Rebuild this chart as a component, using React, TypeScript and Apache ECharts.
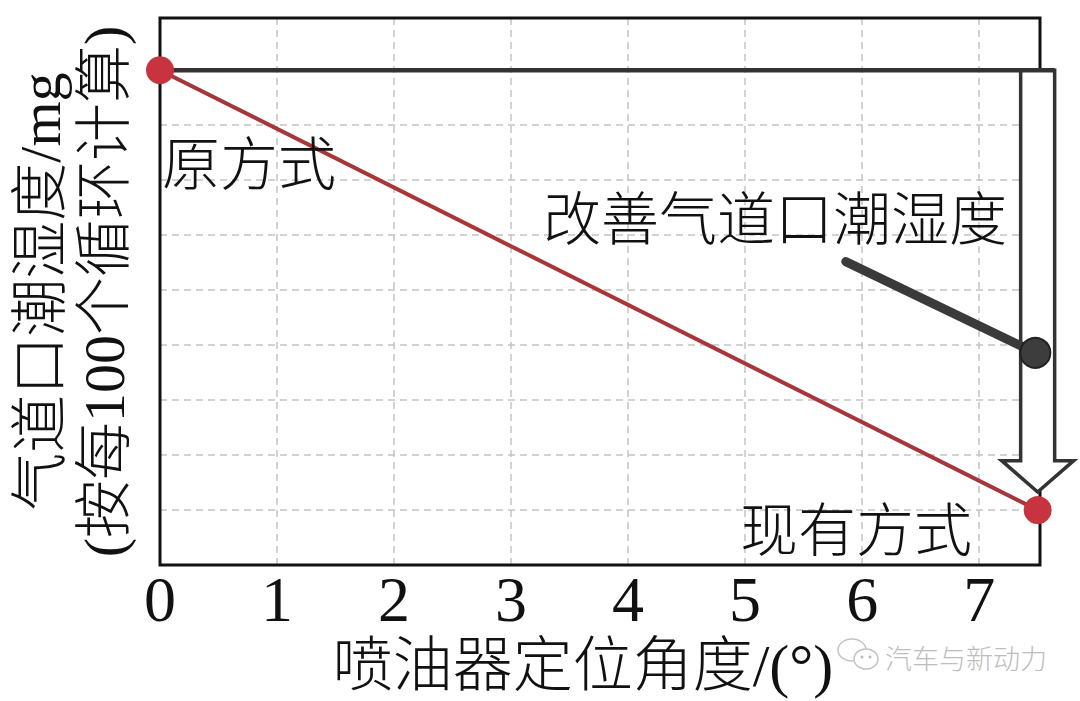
import React, { useEffect, useRef } from "react";
import * as echarts from "echarts";

// ---- data ----
const xTickValues = [0, 1, 2, 3, 4, 5, 6, 7];
const xMin = 0;
const xMax = 7.52;
const yMin = 0;
const yMax = 9.95;
const redLine = [
  [0, 9],
  [7.5, 1],
];
const pointerLine = [
  [5.86, 5.52],
  [7.48, 3.86],
];
const arrowX = 7.5;
const arrowTopY = 9;
const arrowHeadY = 1.9;
const arrowTipY = 1.33;
const xAxisTitle = "喷油器定位角度/(°)";
const yAxisTitle = "气道口潮湿度/mg\n(按每100个循环计算)";
const labelOld = "原方式";
const labelNew = "现有方式";
const labelImprove = "改善气道口潮湿度";
const watermark = "汽车与新动力";

const SERIF = "Liberation Serif, Noto Sans CJK SC";
const CJK = "Noto Sans CJK SC";

export default function App() {
  const ref = useRef<HTMLDivElement>(null);
  useEffect(() => {
    if (!ref.current) return;
    const chart = echarts.init(ref.current, null, { renderer: "svg" });
    const gridLine = { color: "#c4c4c4", type: [7, 5], width: 1.5 };
    chart.setOption({
      animation: false,
      backgroundColor: "#ffffff",
      grid: {
        left: 158,
        right: 40,
        top: 18,
        bottom: 135,
        show: true,
        borderColor: "#111",
        borderWidth: 3,
        backgroundColor: "transparent",
        z: 1,
      },
      xAxis: {
        type: "value",
        min: xMin,
        max: xMax,
        interval: 1,
        z: 0,
        axisLine: { show: false },
        axisTick: { show: false },
        axisLabel: {
          showMaxLabel: false,
          margin: 10,
          fontSize: 64,
          lineHeight: 48,
          fontFamily: SERIF,
          color: "#111",
          formatter: (v: number) => (xTickValues.includes(v) ? String(v) : ""),
        },
        splitLine: {
          show: true,
          showMinLine: false,
          showMaxLine: false,
          lineStyle: gridLine,
        },
        name: xAxisTitle,
        nameLocation: "middle",
        nameGap: 62,
        nameTextStyle: {
          fontSize: 60,
          lineHeight: 60,
          fontFamily: SERIF,
          fontWeight: 300,
          color: "#111",
          padding: [0, 34, 0, 0],
        },
      },
      yAxis: {
        type: "value",
        min: yMin,
        max: yMax,
        interval: 1,
        z: 0,
        axisLine: { show: false },
        axisTick: { show: false },
        axisLabel: { show: false },
        splitLine: {
          show: true,
          showMinLine: false,
          showMaxLine: false,
          lineStyle: gridLine,
        },
        name: yAxisTitle,
        nameLocation: "middle",
        nameRotate: 90,
        nameGap: 24,
        nameTextStyle: {
          fontSize: 58,
          lineHeight: 64,
          fontFamily: SERIF,
          fontWeight: 300,
          color: "#111",
        },
      },
      series: [
        {
          type: "line",
          data: redLine,
          symbol: "circle",
          symbolSize: 28,
          z: 3,
          lineStyle: { color: "#a8353a", width: 4 },
          itemStyle: { color: "#c7343f" },
          clip: false,
        },
        {
          type: "line",
          data: pointerLine,
          symbol: "circle",
          symbolSize: (_v: any, p: any) => (p.dataIndex === 1 ? 30 : 0),
          z: 3,
          lineStyle: { color: "#3a3a3a", width: 9, cap: "round" },
          itemStyle: { color: "#3d3d3d", borderColor: "#222", borderWidth: 2 },
          clip: false,
        },
      ],
    });

    const px = (x: number, y: number) =>
      chart.convertToPixel({ gridIndex: 0 }, [x, y]) as number[];
    const [cx, top] = px(arrowX, arrowTopY);
    const headY = px(arrowX, arrowHeadY)[1];
    const tipY = px(arrowX, arrowTipY)[1];
    const left0 = px(0, arrowTopY)[0];
    const sw = 17;
    const hw = 36;

    const annot = (text: string, x: number, y: number) => ({
      type: "text",
      z: 5,
      x,
      y,
      style: {
        text,
        fontSize: 58,
        lineHeight: 50,
        fontFamily: CJK,
        fontWeight: 300,
        fill: "#111",
        align: "left",
        verticalAlign: "middle",
      },
    });

    chart.setOption({
      graphic: [
        {
          type: "polygon",
          z: 2,
          shape: {
            points: [
              [cx - sw, top],
              [cx + sw, top],
              [cx + sw, headY],
              [cx + hw, headY],
              [cx, tipY],
              [cx - hw, headY],
              [cx - sw, headY],
            ],
          },
          style: { fill: "#ffffff", stroke: "#333", lineWidth: 3.5 },
        },
        {
          type: "line",
          z: 2,
          shape: { x1: left0, y1: top, x2: cx + sw, y2: top },
          style: { stroke: "#333", lineWidth: 4.5 },
        },
        annot(labelOld, 162, 160),
        annot(labelImprove, 543, 215),
        annot(labelNew, 740, 526),
        {
          type: "group",
          z: 5,
          children: [
            {
              type: "ellipse",
              shape: { cx: 852, cy: 650, rx: 14, ry: 11 },
              style: { fill: "#fff", stroke: "#c4c4c4", lineWidth: 1.5 },
            },
            {
              type: "ellipse",
              shape: { cx: 866, cy: 659, rx: 12, ry: 10 },
              style: { fill: "#fff", stroke: "#c4c4c4", lineWidth: 1.5 },
            },
            {
              type: "circle",
              shape: { cx: 862, cy: 657, r: 1.5 },
              style: { fill: "#bbb" },
            },
            {
              type: "circle",
              shape: { cx: 870, cy: 657, r: 1.5 },
              style: { fill: "#bbb" },
            },
            {
              type: "text",
              x: 885,
              y: 657,
              style: {
                text: watermark,
                fontSize: 27,
                fontFamily: CJK,
                fontWeight: 300,
                fill: "#bdbdbd",
                align: "left",
                verticalAlign: "middle",
              },
            },
          ],
        },
      ],
    });

    return () => chart.dispose();
  }, []);
  return (
    <div
      ref={ref}
      style={{ position: "fixed", left: 0, top: 0, width: 1080, height: 701 }}
    />
  );
}
